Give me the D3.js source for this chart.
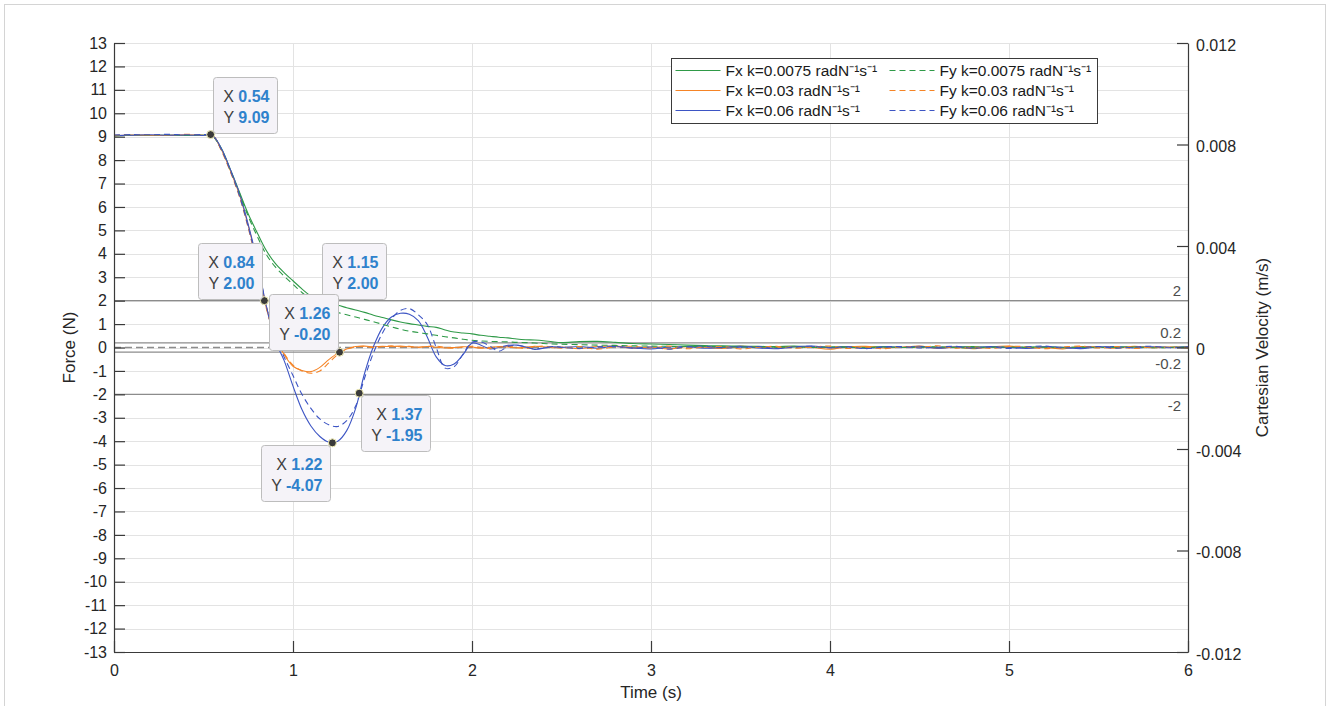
<!DOCTYPE html>
<html lang="en">
<head>
    <meta charset="UTF-8">
    <title>Force response</title>
    <style>
        body { margin: 0; background: #fff; }
        svg { font-family: "Liberation Sans", Arial, sans-serif; }
    </style>
</head>
<body>
    <div id="chart"></div>

    <script src="https://cdnjs.cloudflare.com/ajax/libs/d3/7.8.5/d3.min.js"></script>
    <script>
        // time samples (s), shared by all six series
        const time = [0, 0.1, 0.2, 0.3, 0.4, 0.5,
            0.55, 0.6, 0.65, 0.7, 0.75, 0.8, 0.85, 0.9, 0.95, 1.0,
            1.05, 1.1, 1.15, 1.2, 1.25, 1.3, 1.35, 1.4, 1.45, 1.5,
            1.55, 1.6, 1.65, 1.7, 1.75, 1.8, 1.85, 1.9, 1.95, 2.0,
            2.05, 2.1, 2.15, 2.2, 2.25, 2.3, 2.35, 2.4, 2.45, 2.5,
            2.6, 2.7, 2.8, 2.9, 3.0, 3.1, 3.2, 3.3, 3.4, 3.5,
            3.6, 3.7, 3.8, 3.9, 4.0, 4.1, 4.2, 4.3, 4.4, 4.5,
            4.6, 4.7, 4.8, 4.9, 5.0, 5.1, 5.2, 5.3, 5.4, 5.5,
            5.6, 5.7, 5.8, 5.9, 6.0];

        // Force (N), k = 0.0075
        const fxK1 = [9.03, 9.06, 9.05, 9.07, 9.05, 9.07,
            9.02, 8.5, 7.6, 6.65, 5.7, 4.9, 4.15, 3.6, 3.2, 2.85,
            2.5, 2.2, 1.99, 1.88, 1.8, 1.7, 1.6, 1.5, 1.38, 1.28,
            1.18, 1.09, 1.02, 0.96, 0.9, 0.86, 0.75, 0.66, 0.62, 0.58,
            0.52, 0.48, 0.44, 0.41, 0.36, 0.33, 0.32, 0.29, 0.24, 0.21,
            0.25, 0.26, 0.22, 0.17, 0.15, 0.13, 0.1, 0.08, 0.07, 0.06,
            0.05, 0.04, 0.06, 0.03, 0.02, 0.04, 0.02, 0.03, 0.01, 0.03,
            0.0, 0.02, 0.04, 0.01, 0.0, 0.02, 0.03, 0.0, -0.01, 0.02,
            0.01, 0.03, 0.0, 0.01, 0.02];
        const fyK1 = [9.05, 9.08, 9.06, 9.08, 9.06, 9.08,
            9.04, 8.45, 7.55, 6.6, 5.6, 4.75, 3.98, 3.45, 3.05, 2.7,
            2.35, 2.05, 1.82, 1.64, 1.5, 1.4, 1.3, 1.2, 1.1, 0.99,
            0.88, 0.78, 0.7, 0.64, 0.58, 0.52, 0.46, 0.41, 0.35, 0.31,
            0.28, 0.26, 0.25, 0.24, 0.22, 0.21, 0.19, 0.17, 0.15, 0.14,
            0.12, 0.1, 0.09, 0.07, 0.06, 0.05, 0.04, 0.05, 0.03, 0.02,
            0.03, 0.01, 0.02, 0.0, 0.02, 0.01, -0.01, 0.02, 0.0, 0.01,
            0.03, 0.0, -0.02, 0.01, 0.02, 0.0, 0.01, -0.01, 0.02, 0.0,
            0.01, 0.02, -0.01, 0.0, 0.01];

        // Force (N), k = 0.03
        const fxK2 = [9.04, 9.07, 9.06, 9.05, 9.08, 9.06,
            9.05, 8.45, 7.55, 6.55, 5.2, 3.6, 1.75, 0.45, -0.3, -0.8,
            -0.98, -1.03, -0.85, -0.52, -0.24, -0.06, 0.04, 0.06, 0.03, 0.05,
            0.04, 0.06, 0.03, 0.02, 0.04, 0.01, -0.02, 0.0, 0.03, 0.02,
            -0.03, 0.0, 0.04, 0.02, -0.02, 0.01, 0.05, 0.03, -0.01, 0.02,
            -0.05, 0.04, 0.06, -0.03, 0.02, -0.06, 0.03, 0.01, -0.04, 0.05,
            0.02, -0.03, 0.04, 0.0, -0.07, 0.03, 0.05, -0.02, 0.01, 0.06,
            -0.04, 0.02, -0.05, 0.03, 0.06, -0.02, 0.01, -0.06, 0.04, 0.02,
            -0.03, 0.05, -0.01, 0.02, -0.02];
        const fyK2 = [9.06, 9.09, 9.07, 9.08, 9.1, 9.08,
            9.07, 8.4, 7.5, 6.45, 5.1, 3.5, 1.7, 0.5, -0.25, -0.75,
            -1.0, -1.1, -1.0, -0.66, -0.3, -0.08, 0.03, 0.05, 0.0, 0.04,
            0.07, 0.03, 0.05, 0.0, 0.04, 0.06, 0.01, -0.03, 0.02, 0.05,
            0.0, -0.04, 0.02, 0.05, 0.0, -0.05, 0.03, 0.06, 0.01, -0.03,
            0.04, -0.07, 0.03, 0.05, -0.02, 0.06, -0.05, 0.02, 0.04, -0.06,
            0.01, 0.05, -0.03, 0.03, 0.06, -0.04, 0.02, -0.05, 0.04, 0.01,
            0.07, -0.03, 0.02, -0.04, 0.05, 0.03, -0.05, 0.02, 0.06, -0.02,
            0.04, -0.04, 0.03, 0.0, 0.02];

        // Force (N), k = 0.06
        const fxK3 = [9.05, 9.06, 9.08, 9.06, 9.07, 9.05,
            9.04, 8.5, 7.6, 6.6, 5.25, 3.7, 1.8, 0.3, -0.55, -1.65,
            -2.65, -3.35, -3.8, -4.04, -4.0, -3.55, -2.6, -1.1, 0.05, 0.85,
            1.3, 1.46, 1.42, 1.15, 0.45, -0.4, -0.77, -0.7, -0.3, 0.18,
            0.1, -0.06, 0.0, 0.09, 0.1, 0.02, -0.08, -0.03, 0.03, 0.0,
            0.04, -0.03, 0.05, -0.02, -0.06, 0.02, 0.04, -0.03, 0.01, 0.05,
            -0.02, -0.05, 0.03, 0.06, -0.01, 0.02, -0.04, 0.03, 0.0, 0.05,
            -0.03, 0.02, -0.01, 0.04, 0.0, -0.04, 0.03, 0.01, -0.05, 0.02,
            0.04, -0.02, 0.03, 0.0, 0.04];
        const fyK3 = [9.07, 9.09, 9.08, 9.1, 9.08, 9.09,
            9.06, 8.45, 7.55, 6.5, 5.15, 3.6, 1.8, 0.4, -0.4, -1.2,
            -2.0, -2.6, -3.05, -3.3, -3.37, -3.12, -2.5, -1.3, -0.22, 0.62,
            1.22, 1.58, 1.66, 1.4, 0.98, 0.0, -0.88, -0.82, -0.28, 0.22,
            0.24, 0.06, -0.16, 0.04, 0.1, 0.03, -0.06, -0.02, 0.04, 0.01,
            -0.04, 0.03, 0.05, -0.03, 0.02, -0.07, 0.03, 0.05, -0.02, 0.01,
            0.04, -0.04, 0.02, 0.05, -0.01, 0.03, -0.05, 0.02, 0.04, -0.02,
            0.01, 0.05, -0.03, 0.02, -0.04, 0.03, 0.06, -0.02, 0.0, 0.04,
            -0.03, 0.02, 0.05, -0.01, 0.03];

        const seriesNames = [
            "Fx k=0.0075 radN\u207B\u00B9s\u207B\u00B9", "Fy k=0.0075 radN\u207B\u00B9s\u207B\u00B9",
            "Fx k=0.03 radN\u207B\u00B9s\u207B\u00B9", "Fy k=0.03 radN\u207B\u00B9s\u207B\u00B9",
            "Fx k=0.06 radN\u207B\u00B9s\u207B\u00B9", "Fy k=0.06 radN\u207B\u00B9s\u207B\u00B9"
        ];
        const seriesValues = [fxK1, fyK1, fxK2, fyK2, fxK3, fyK3];

        const forceTicks = d3.range(-13, 14);
        const timeTicks = [0, 1, 2, 3, 4, 5, 6];
        const velocityTicks = [-0.012, -0.008, -0.004, 0, 0.004, 0.008, 0.012];
        const velocityLabels = ["-0.012", "-0.008", "-0.004", "0", "0.004", "0.008", "0.012"];
        const limitLines = [2, 0.2, -0.2, -2];

        // data tips: [time, force]
        const tipValues = [[0.54, 9.09], [0.84, 2.00], [1.15, 2.00], [1.26, -0.20], [1.37, -1.95], [1.22, -4.07]];

        // ---- layout ----
        const W = 1328, H = 706;
        const plot = { left: 114, right: 1188, top: 43, bottom: 652 };
        const colors = ["#2f9a48", "#2f9a48", "#f58426", "#f58426", "#3d55c4", "#3d55c4"];
        const dashes = [null, "6,4", null, "6,4", null, "6,4"];
        // box corner relative to point: "ur" upper-right, "ul" upper-left, "lr", "ll"
        const tipPlace = ["ur", "ul", "ur", "ul", "lr", "ll"];

        const x = d3.scaleLinear().domain([0, 6]).range([plot.left, plot.right]);
        const y = d3.scaleLinear().domain([-13, 13]).range([plot.bottom, plot.top]);
        const yR = d3.scaleLinear().domain([-0.012, 0.012]).range([plot.bottom, plot.top]);
        const fmt2 = v => v.toFixed(2);   // keeps the plain hyphen minus

        const svg = d3.select("#chart").append("svg")
            .attr("width", W)
            .attr("height", H);

        // outer frame
        svg.append("rect")
            .attr("x", 4.5).attr("y", 4.5)
            .attr("width", 1321).attr("height", 720)
            .attr("fill", "none")
            .attr("stroke", "#d4d4d4");

        // grid
        const grid = svg.append("g").attr("stroke", "#e3e3e3").attr("stroke-width", 1);
        grid.selectAll(".hg").data(forceTicks).enter().append("line")
            .attr("x1", plot.left).attr("x2", plot.right)
            .attr("y1", d => Math.round(y(d)) + 0.5).attr("y2", d => Math.round(y(d)) + 0.5);
        grid.selectAll(".vg").data(timeTicks.slice(1, -1)).enter().append("line")
            .attr("x1", d => Math.round(x(d)) + 0.5).attr("x2", d => Math.round(x(d)) + 0.5)
            .attr("y1", plot.top).attr("y2", plot.bottom);

        // constant lines
        svg.append("line")
            .attr("x1", plot.left).attr("x2", plot.right)
            .attr("y1", y(0)).attr("y2", y(0))
            .attr("stroke", "#8c8c8c").attr("stroke-width", 1.3)
            .attr("stroke-dasharray", "7,4");

        svg.selectAll(".limit").data(limitLines).enter().append("line")
            .attr("x1", plot.left).attr("x2", plot.right)
            .attr("y1", d => y(d)).attr("y2", d => y(d))
            .attr("stroke", "#8c8c8c").attr("stroke-width", 1.3);

        svg.selectAll(".limit-label").data(limitLines).enter().append("text")
            .attr("x", plot.right - 7)
            .attr("y", d => d > 0 ? y(d) - 5 : y(d) + 17)
            .attr("text-anchor", "end")
            .attr("font-size", 15)
            .attr("fill", "#4d4d4d")
            .text(d => String(d));

        // curves
        const line = d3.line()
            .x((d, i) => x(time[i]))
            .y(d => y(d))
            .curve(d3.curveCatmullRom.alpha(0.5));

        const order = [0, 2, 4, 1, 3, 5];
        order.forEach(k => {
            svg.append("path")
                .datum(seriesValues[k])
                .attr("fill", "none")
                .attr("stroke", colors[k])
                .attr("stroke-width", 1.1)
                .attr("stroke-dasharray", dashes[k])
                .attr("d", line);
        });

        // axes
        const axisColor = "#3a3a3a";
        const leftAxis = svg.append("g")
            .attr("transform", `translate(${plot.left},0)`)
            .call(d3.axisLeft(y).tickValues(forceTicks).tickSize(-11).tickSizeOuter(0).tickPadding(7)
                .tickFormat(d => String(d)));
        const rightAxis = svg.append("g")
            .attr("transform", `translate(${plot.right},0)`)
            .call(d3.axisRight(yR).tickValues(velocityTicks).tickSize(-11).tickSizeOuter(0).tickPadding(8)
                .tickFormat((d, i) => velocityLabels[i]));
        const bottomAxis = svg.append("g")
            .attr("transform", `translate(0,${plot.bottom})`)
            .call(d3.axisBottom(x).tickValues(timeTicks).tickSize(-11).tickSizeOuter(0).tickPadding(13)
                .tickFormat(d => String(d)));

        [leftAxis, rightAxis, bottomAxis].forEach(g => {
            g.select(".domain").attr("stroke", axisColor).attr("stroke-width", 1.2);
            g.selectAll(".tick line").attr("stroke", axisColor).attr("stroke-width", 1.2);
            g.selectAll(".tick text").attr("fill", "#262626").attr("font-size", 16)
                .attr("font-family", "Liberation Sans, Arial, sans-serif");
        });
        rightAxis.selectAll(".tick text").attr("dy", "0.45em");

        // axis titles
        svg.append("text")
            .attr("x", (plot.left + plot.right) / 2)
            .attr("y", 698)
            .attr("text-anchor", "middle")
            .attr("font-size", 17)
            .attr("fill", "#262626")
            .text("Time (s)");
        svg.append("text")
            .attr("transform", `translate(75,${y(0)}) rotate(-90)`)
            .attr("text-anchor", "middle")
            .attr("font-size", 17)
            .attr("fill", "#262626")
            .text("Force (N)");
        svg.append("text")
            .attr("transform", `translate(1268,${y(0)}) rotate(-90)`)
            .attr("text-anchor", "middle")
            .attr("font-size", 17)
            .attr("fill", "#262626")
            .text("Cartesian Velocity (m/s)");

        // legend
        const legend = svg.append("g").attr("transform", "translate(671.5,58.5)");
        legend.append("rect")
            .attr("width", 426).attr("height", 65)
            .attr("fill", "#fff")
            .attr("stroke", "#3a3a3a");
        seriesNames.forEach((name, k) => {
            const col = k % 2, row = Math.floor(k / 2);
            const item = legend.append("g")
                .attr("transform", `translate(${col === 0 ? 4 : 218},${12 + row * 20})`);
            item.append("line")
                .attr("x1", 0).attr("x2", 45)
                .attr("stroke", colors[k])
                .attr("stroke-width", 1.1)
                .attr("stroke-dasharray", dashes[k]);
            item.append("text")
                .attr("x", 50).attr("dy", "0.36em")
                .attr("font-size", 15.5)
                .attr("fill", "#1a1a1a")
                .text(name);
        });

        // data tips
        const tips = svg.append("g");
        tipValues.forEach(d => {
            tips.append("circle")
                .attr("cx", x(d[0])).attr("cy", y(d[1])).attr("r", 4)
                .attr("fill", "#3a3a3a")
                .attr("stroke", "#f6f2b8").attr("stroke-width", 1);
        });
        tipValues.forEach((d, i) => {
            const px = x(d[0]), py = y(d[1]);
            const g = tips.append("g");
            const rect = g.append("rect")
                .attr("rx", 3)
                .attr("fill", "#f5f3f8")
                .attr("stroke", "#bdbdbd");
            const lines = [["X ", fmt2(d[0])], ["Y ", fmt2(d[1])]];
            const texts = lines.map((l, j) => {
                const t = g.append("text")
                    .attr("y", 24 + j * 21)
                    .attr("text-anchor", "end")
                    .attr("font-size", 16);
                t.append("tspan").attr("fill", "#404040").text(l[0]);
                t.append("tspan").attr("fill", "#2f82cc").attr("font-weight", "bold").text(l[1]);
                return t;
            });
            const tw = d3.max(texts, t => t.node().getComputedTextLength());
            const bw = Math.round(tw + 18), bh = 56;
            texts.forEach(t => t.attr("x", bw - 8));
            rect.attr("width", bw).attr("height", bh);
            const p = tipPlace[i];
            const bx = p[1] === "r" ? px + 2 : px - bw - 2;
            const by = p[0] === "u" ? py - bh - 2 : py + 2;
            g.attr("transform", `translate(${Math.round(bx) + 0.5},${Math.round(by) + 0.5})`);
        });
    </script>
</body>
</html>
